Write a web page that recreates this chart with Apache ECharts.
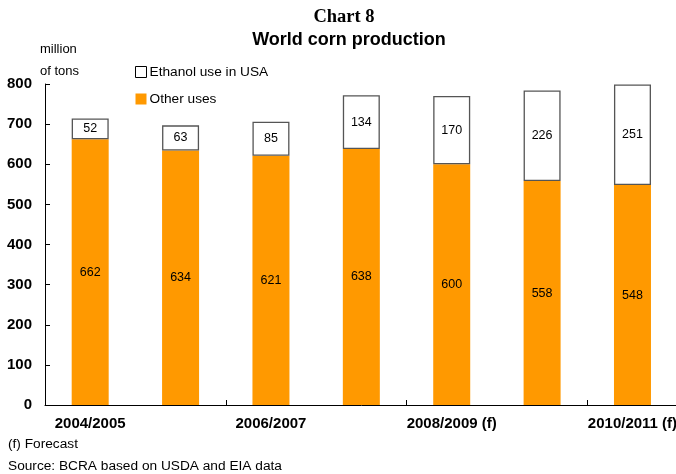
<!DOCTYPE html>
<html><head><meta charset="utf-8">
<script src="https://cdn.jsdelivr.net/npm/echarts@6/dist/echarts.min.js"></script>
<style>html,body{margin:0;padding:0;background:#fff;overflow:hidden;width:676px;height:474px}#c{width:680px;height:474px}</style>
</head><body><div id="c"></div>
<script>
const categories = ['2004/2005','2005/2006','2006/2007','2007/2008','2008/2009 (f)','2009/2010 (f)','2010/2011 (f)'];
const otherUses = [662, 634, 621, 638, 600, 558, 548];
const ethanolUSA = [52, 63, 85, 134, 170, 226, 251];
const yTicks = {min: 0, max: 800, interval: 100};

const F = 'Liberation Sans, Arial, sans-serif';
const chart = echarts.init(document.getElementById('c'), null, {renderer: 'canvas'});
chart.setOption({
  animation: false,
  backgroundColor: '#fff',
  title: [
    {text: 'Chart 8', left: 339, top: 3, textAlign: 'center',
     textStyle: {fontFamily: 'Liberation Serif, Times New Roman, serif', fontWeight: 'bold', fontSize: 18.5, color: '#000'}},
    {text: 'World corn production', left: 344, top: 26, textAlign: 'center',
     textStyle: {fontFamily: F, fontWeight: 'bold', fontSize: 18, color: '#000'}}
  ],
  graphic: [
    {type: 'text', left: 40, top: 43, style: {text: 'million', font: '13px ' + F, fill: '#000'}},
    {type: 'text', left: 40, top: 65, style: {text: 'of tons', font: '13px ' + F, fill: '#000'}},
    {type: 'text', left: 8, top: 437, style: {text: '(f) Forecast', font: '13.7px ' + F, fill: '#000'}},
    {type: 'text', left: 8, top: 459, style: {text: 'Source: BCRA based on USDA and EIA data', font: '13.7px ' + F, fill: '#000'}}
  ],
  legend: {
    orient: 'vertical', left: 135, top: 65, padding: 0, itemWidth: 11, itemHeight: 11, itemGap: 13,
    data: [
      {name: 'Ethanol use in USA', icon: 'rect', itemStyle: {color: '#fff', borderColor: '#000', borderWidth: 1}},
      {name: 'Other uses', icon: 'rect', itemStyle: {color: '#FF9900'}}
    ],
    textStyle: {fontFamily: F, fontSize: 13.7, color: '#000', padding: [0, 0, 0, -2]}
  },
  grid: {left: 45, top: 84, bottom: 69, width: 634, containLabel: false},
  xAxis: {
    type: 'category', data: categories, boundaryGap: true,
    axisLine: {lineStyle: {color: '#000', width: 1}},
    axisTick: {show: true, interval: 1, inside: true, length: 5, lineStyle: {color: '#000'}},
    axisLabel: {interval: 1, margin: 11, fontFamily: F, fontWeight: 'bold', fontSize: 15, color: '#000'}
  },
  yAxis: {
    type: 'value', min: yTicks.min, max: yTicks.max, interval: yTicks.interval,
    splitLine: {show: false},
    axisLine: {show: true, lineStyle: {color: '#000', width: 1}},
    axisTick: {show: true, inside: true, length: 5, lineStyle: {color: '#000'}},
    axisLabel: {margin: 13, fontFamily: F, fontWeight: 'bold', fontSize: 15, color: '#000'}
  },
  series: [
    {name: 'Other uses', type: 'bar', stack: 'total', data: otherUses, barWidth: 37,
     itemStyle: {color: '#FF9900'},
     label: {show: true, position: 'inside', fontFamily: F, fontSize: 12.5, color: '#000'}},
    {name: 'Ethanol use in USA', type: 'bar', stack: 'total', data: ethanolUSA, barWidth: 37,
     itemStyle: {color: '#fff', borderColor: '#555', borderWidth: 1.3},
     label: {show: true, position: 'inside', fontFamily: F, fontSize: 12.5, color: '#000'}}
  ]
});
</script></body></html>
